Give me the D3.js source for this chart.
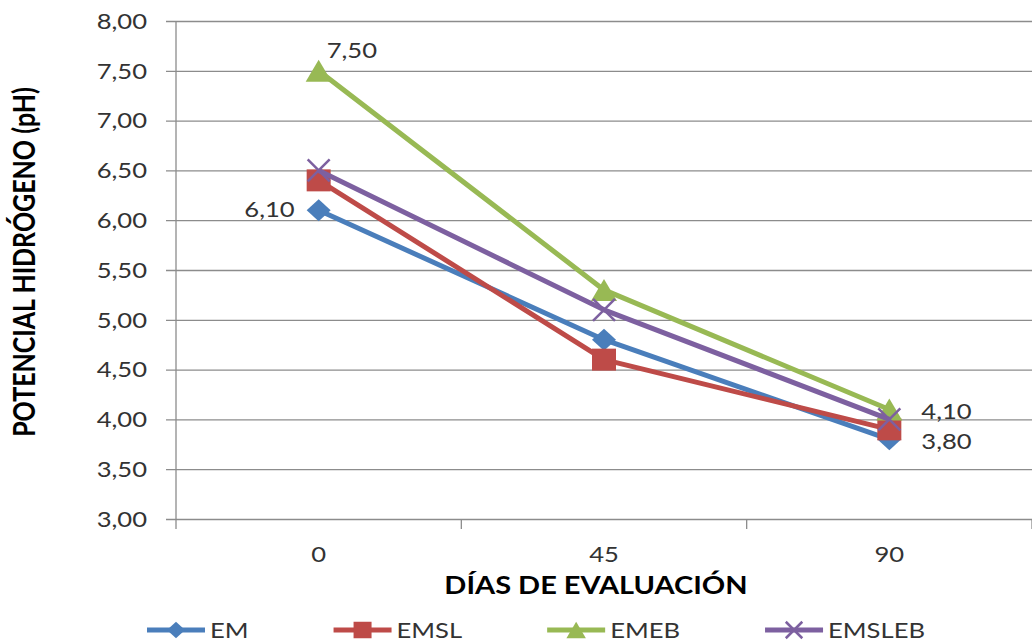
<!DOCTYPE html>
<html>
<head>
<meta charset="utf-8">
<title>Potencial hidrógeno</title>
<script src="https://d3js.org/d3.v7.min.js"></script>
<style>
body { margin: 0; background: #fff; }
svg text { font-family: Lato, "Open Sans", sans-serif; }
</style>
</head>
<body>
<script>
// datos
var days = ["0", "45", "90"];
var seriesNames = ["EM", "EMSL", "EMEB", "EMSLEB"];
var em = [6.10, 4.80, 3.80];
var emsl = [6.40, 4.60, 3.90];
var emeb = [7.50, 5.30, 4.10];
var emsleb = [6.50, 5.10, 4.00];
var yTicks = [3, 3.5, 4, 4.5, 5, 5.5, 6, 6.5, 7, 7.5, 8];
// etiquetas de datos: [serie, punto]
var labeled = [[2, 0], [0, 0], [2, 2], [0, 2]];

var colors = ["#4a7ebb", "#be4b48", "#98b954", "#7d60a0"];
var markers = ["diamond", "square", "triangle", "cross"];

var W = 1032, H = 640;
var plotLeft = 176, plotRight = 1032, plotTop = 21, plotBottom = 519;
var sx = 1.22; // el original esta estirado en horizontal

var locale = d3.formatLocale({decimal: ",", thousands: ".", grouping: [3], currency: ["", ""]});
var fmt = locale.format(".2f");

var series = seriesNames.map(function(name, i) {
    return {name: name, values: [em, emsl, emeb, emsleb][i], color: colors[i], marker: markers[i]};
});

var band = d3.scaleBand().domain(days).range([plotLeft, plotRight]).paddingInner(0).paddingOuter(0);
var x = function(d) { return band(d) + band.bandwidth() / 2; };
var y = d3.scaleLinear().domain([3, 8]).range([plotBottom, plotTop]);

var svg = d3.select("body").append("svg")
    .attr("width", W)
    .attr("height", H);

// rejilla + eje y
var yAxis = d3.axisLeft(y)
    .tickValues(yTicks)
    .tickFormat(fmt)
    .tickSize(-(plotRight - plotLeft))
    .tickPadding(0);

var gy = svg.append("g")
    .attr("transform", "translate(" + plotLeft + ",0)")
    .call(yAxis);
gy.select(".domain").remove();
gy.selectAll(".tick line")
    .attr("x1", -10)
    .attr("stroke", "#8c8c8c")
    .attr("stroke-width", 1.3);
gy.selectAll(".tick text")
    .attr("x", 0)
    .attr("dy", "0.35em")
    .attr("transform", "translate(-29,0) scale(" + sx + ",1)")
    .attr("fill", "#333")
    .style("font-size", "21px")
    .attr("text-anchor", "end");

svg.append("line")
    .attr("x1", plotLeft).attr("x2", plotLeft)
    .attr("y1", plotTop).attr("y2", plotBottom)
    .attr("stroke", "#8c8c8c").attr("stroke-width", 1.3);

// eje x
var bounds = days.map(function(d) { return band(d); }).concat([plotRight]);
svg.selectAll(".xtick")
    .data(bounds)
    .enter().append("line")
    .attr("class", "xtick")
    .attr("x1", function(d) { return d; }).attr("x2", function(d) { return d; })
    .attr("y1", plotBottom).attr("y2", plotBottom + 10)
    .attr("stroke", "#8c8c8c").attr("stroke-width", 1.3);

svg.selectAll(".xlabel")
    .data(days)
    .enter().append("text")
    .attr("class", "xlabel")
    .attr("transform", function(d) { return "translate(" + x(d) + ",562) scale(" + sx + ",1)"; })
    .attr("text-anchor", "middle")
    .attr("fill", "#333")
    .style("font-size", "21px")
    .text(function(d) { return d; });

// titulos
svg.append("text")
    .attr("transform", "translate(596,594) scale(1.16,1)")
    .attr("text-anchor", "middle")
    .style("font-size", "25px")
    .style("font-weight", "bold")
    .text("DÍAS DE EVALUACIÓN");

svg.append("text")
    .attr("transform", "translate(35,262) rotate(-90) scale(1,1.22)")
    .attr("text-anchor", "middle")
    .style("font-size", "25px")
    .style("font-weight", "bold")
    .text("POTENCIAL HIDRÓGENO (pH)");

// marcadores
function markerPath(type, k) {
    k = k || 1;
    if (type == "diamond") return "M0," + (-11 * k) + "L" + (12 * k) + ",0L0," + (11 * k) + "L" + (-12 * k) + ",0Z";
    if (type == "square") return "M" + (-12 * k) + "," + (-11 * k) + "h" + (24 * k) + "v" + (22 * k) + "h" + (-24 * k) + "Z";
    if (type == "triangle") return "M0," + (-11 * k) + "L" + (13 * k) + "," + (11 * k) + "L" + (-13 * k) + "," + (11 * k) + "Z";
    return "M" + (-11 * k) + "," + (-11 * k) + "L" + (11 * k) + "," + (11 * k) + "M" + (11 * k) + "," + (-11 * k) + "L" + (-11 * k) + "," + (11 * k);
}

function drawMarker(g, s, k) {
    var p = g.append("path").attr("d", markerPath(s.marker, k));
    if (s.marker == "cross") {
        p.attr("fill", "none").attr("stroke", s.color).attr("stroke-width", 2.5);
    } else {
        p.attr("fill", s.color);
    }
}

var line = d3.line()
    .x(function(d, i) { return x(days[i]); })
    .y(function(d) { return y(d); });

var sg = svg.selectAll(".serie")
    .data(series)
    .enter().append("g")
    .attr("class", "serie");

sg.append("path")
    .attr("d", function(s) { return line(s.values); })
    .attr("fill", "none")
    .attr("stroke", function(s) { return s.color; })
    .attr("stroke-width", 5)
    .attr("stroke-linejoin", "round");

sg.each(function(s) {
    var g = d3.select(this);
    s.values.forEach(function(v, i) {
        var m = g.append("g").attr("transform", "translate(" + x(days[i]) + "," + y(v) + ")");
        drawMarker(m, s, 1);
    });
});

// etiquetas de datos
var offs = {"2-0": [8, -13, "start"], "0-0": [-24, 7, "end"], "2-2": [32, 10, "start"], "0-2": [32, 10, "start"]};
labeled.forEach(function(l) {
    var s = series[l[0]], i = l[1];
    var o = offs[l[0] + "-" + l[1]];
    svg.append("text")
        .attr("transform", "translate(" + (x(days[i]) + o[0]) + "," + (y(s.values[i]) + o[1]) + ") scale(" + sx + ",1)")
        .attr("text-anchor", o[2])
        .attr("fill", "#333")
        .style("font-size", "21px")
        .text(fmt(s.values[i]));
});

// leyenda
var lx = 147;
series.forEach(function(s) {
    var g = svg.append("g").attr("transform", "translate(" + lx + ",630)");
    g.append("line")
        .attr("x1", 0).attr("x2", 58)
        .attr("stroke", s.color).attr("stroke-width", 5);
    var m = g.append("g").attr("transform", "translate(29,0)");
    drawMarker(m, s, 0.75);
    var t = g.append("text")
        .attr("transform", "translate(63,8) scale(" + sx + ",1)")
        .attr("fill", "#333")
        .style("font-size", "21px")
        .text(s.name);
    lx += 63 + t.node().getComputedTextLength() * sx + 85;
});
</script>
</body>
</html>
